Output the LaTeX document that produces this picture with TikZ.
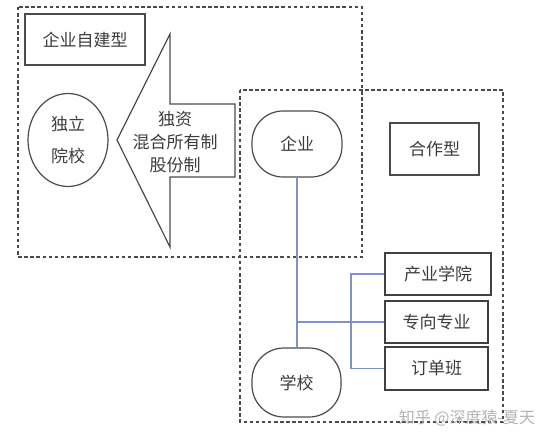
\documentclass[tikz,border=0pt]{standalone}
\usepackage{fontspec}
\newfontfamily\cjk{Noto Sans CJK SC}
\usetikzlibrary{shapes.geometric}
\definecolor{dgray}{RGB}{75,75,75}
\definecolor{tgray}{RGB}{60,60,60}
\definecolor{lblue}{RGB}{125,148,200}
\begin{document}
\begin{tikzpicture}[x=1pt,y=-1pt,
  dashbox/.style={draw=dgray, line width=2pt, dash pattern=on 3.5pt off 2.6pt},
  txt/.style={font=\cjk\fontsize{17}{20}\selectfont, text=tgray, align=center},
  thinbox/.style={txt, draw=dgray, line width=1.2pt, inner sep=0pt},
  thickbox/.style={txt, draw=black!75, line width=2pt, inner sep=0pt},
  blueline/.style={draw=lblue, line width=1.3pt}]
\useasboundingbox (0,0) rectangle (554,441);
% dashed regions
\draw[dashbox] (18,7) rectangle (362,257);
\draw[dashbox] (240,90) rectangle (503,422);
% left part
\node[thinbox, minimum width=120pt, minimum height=51pt] (zj) at (85,39.5) {企业自建型};
\node[thinbox, ellipse, minimum width=80pt, minimum height=93pt,
      font=\cjk\fontsize{17}{32}\selectfont] (dl) at (68,140) {独立\\院校};
\draw[draw=dgray, line width=1.2pt, line join=miter]
  (117,140) -- (170,34) -- (170,104) -- (235,104) -- (235,177) -- (170,177) -- (170,247) -- cycle;
\node[txt, font=\cjk\fontsize{17}{23}\selectfont] (arr) at (175,142) {独资\\混合所有制\\股份制};
% right part
\node[thinbox, rounded corners=31pt, minimum width=90pt, minimum height=66pt] (qy) at (297,144) {企业};
\node[thinbox, minimum width=89pt, minimum height=52pt] (hz) at (434.5,149) {合作型};
\node[thinbox, rounded corners=32pt, minimum width=89pt, minimum height=69pt] (xx) at (296.5,382.5) {学校};
\node[thickbox, minimum width=106pt, minimum height=42pt] (cy) at (438,274) {产业学院};
\node[thickbox, minimum width=103pt, minimum height=42pt] (zx) at (436.5,322) {专向专业};
\node[thickbox, minimum width=103pt, minimum height=43pt] (dd) at (436.5,368.5) {订单班};
% connectors
\draw[blueline] (qy.south) -- (qy.south |- xx.north);
\coordinate (j) at (qy.south |- zx.west);
\draw[blueline] (j) -- (zx.west);
\coordinate (bx) at (351,322);
\draw[blueline] (cy.west) -| (bx) |- (dd.west);
% watermark
\node[font=\cjk\fontsize{16}{18}\selectfont, text=black!30] (wm) at (467,418) {知乎 @深度猿-夏天};
\end{tikzpicture}
\end{document}
